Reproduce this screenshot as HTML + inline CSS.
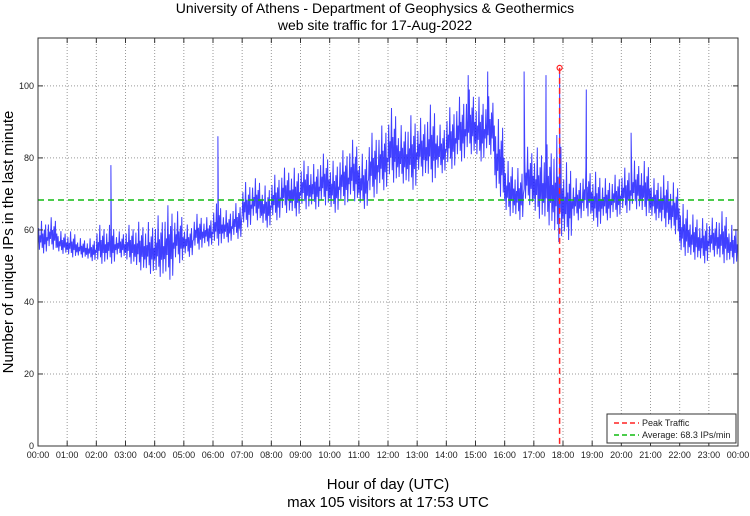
<!DOCTYPE html>
<html><head><meta charset="utf-8"><style>
body{margin:0;background:#fff;}
svg text{font-family:"Liberation Sans",sans-serif;}
</style></head><body>
<svg id="chart" width="750" height="511" xmlns="http://www.w3.org/2000/svg">
<rect x="0" y="0" width="750" height="511" fill="#fff"/>
<g id="grid"></g>
<g id="series"></g>
<g id="axes"></g>
<text x="375" y="13" font-size="14" text-anchor="middle">University of Athens - Department of Geophysics &amp; Geothermics</text>
<text x="375" y="30" font-size="14" text-anchor="middle">web site traffic for 17-Aug-2022</text>
<text x="388" y="489" font-size="15" text-anchor="middle">Hour of day (UTC)</text>
<text x="388" y="507" font-size="15" text-anchor="middle">max 105 visitors at 17:53 UTC</text>
<text transform="translate(13,242) rotate(-90)" font-size="15" text-anchor="middle">Number of unique IPs in the last minute</text>
<g>
<rect x="607" y="414" width="129" height="29" fill="#fff" stroke="#333" stroke-width="1"/>
<line x1="614" y1="423" x2="639" y2="423" stroke="#f22" stroke-width="1.5" stroke-dasharray="5,3"/>
<text x="642" y="426" font-size="9" fill="#222">Peak Traffic</text>
<line x1="614" y1="435" x2="639" y2="435" stroke="#1b1" stroke-width="1.5" stroke-dasharray="5,3"/>
<text x="642" y="438" font-size="9" fill="#222">Average: 68.3 IPs/min</text>
</g>
</svg>
<script>
const binLow = [53,54,53,52,52,51,50,50,52,50,48,47,46,45,50,52,54,55,55,56,57,60,62,60,62,64,63,65,65,66,64,66,67,65,68,70,72,72,70,74,72,75,76,78,80,78,80,68,63,62,66,62,60,55,56,62,63,60,62,63,64,65,63,62,60,58,52,51,50,52,50,50];
const binHigh = [63,64,60,60,58,58,62,62,60,62,63,63,65,68,66,62,65,64,68,66,68,74,75,73,76,78,78,80,79,82,80,83,86,82,88,90,95,90,93,92,96,90,95,98,100,98,98,92,80,78,84,84,85,88,80,75,78,77,75,76,78,80,80,75,76,74,68,65,64,64,66,62];
const spikeMinutes = [150,370,885,925,1000,1045,1128,1220];
const spikeValues = [78,86,103,104,104,103,99,87];
const yTicks = [0,20,40,60,80,100];
const xTickLabels = ["00:00","01:00","02:00","03:00","04:00","05:00","06:00","07:00","08:00","09:00","10:00","11:00","12:00","13:00","14:00","15:00","16:00","17:00","18:00","19:00","20:00","21:00","22:00","23:00","00:00"];
const averageValue = 68.3;
const peakValue = 105;
const peakMinute = 17*60+53;

const L=38,R=738,T=38,B=446,YMAX=113.3;
const xs=m=>L+(R-L)*m/1440;
const ys=v=>B-(B-T)*v/YMAX;
const NS="http://www.w3.org/2000/svg";
function mk(tag,attrs,parent){const e=document.createElementNS(NS,tag);for(const k in attrs)e.setAttribute(k,attrs[k]);parent.appendChild(e);return e;}
const grid=document.getElementById('grid'),axes=document.getElementById('axes'),series=document.getElementById('series');
xTickLabels.forEach((t,i)=>{const x=xs(i*60);
 if(i>0&&i<24){const g=mk('line',{x1:x,y1:T,x2:x,y2:B,stroke:'#999','stroke-width':1,'stroke-dasharray':'1,2'},grid);
 
 }
 mk('line',{x1:x,y1:B,x2:x,y2:B-5,stroke:'#333'},axes);mk('line',{x1:x,y1:T,x2:x,y2:T+5,stroke:'#333'},axes);
 const tx=mk('text',{x:x,y:B+12,'font-size':9,'text-anchor':'middle',fill:'#222'},axes);tx.textContent=t;
 
 });
yTicks.forEach(v=>{const y=ys(v);
 if(v>0){const g=mk('line',{x1:L,y1:y,x2:R,y2:y,stroke:'#999','stroke-width':1,'stroke-dasharray':'1,2'},grid);
 
 }
 mk('line',{x1:L,y1:y,x2:L+5,y2:y,stroke:'#333'},axes);mk('line',{x1:R,y1:y,x2:R-5,y2:y,stroke:'#333'},axes);
 const tx=mk('text',{x:L-4,y:y+3,'font-size':9,'text-anchor':'end',fill:'#222'},axes);tx.textContent=v;
 
 });
mk('rect',{x:L,y:T,width:R-L,height:B-T,fill:'none',stroke:'#333','stroke-width':1},axes);
// series: zigzag within each 20-min bin between low and high, plus isolated spikes
const pat=[0.3,0.75,0.15,0.55,0.35,0.95,0.2,0.6,0.05,0.7,0.3,0.85,0.1,0.5];
let raw=[];const nb=binLow.length,bw=1440/nb;
for(let b=0;b<nb;b++){for(let k=0;k<pat.length;k++){const m=b*bw+bw*k/pat.length;raw.push([m,binLow[b]+(binHigh[b]-binLow[b])*pat[k]]);}}
spikeMinutes.forEach((m,i)=>raw.push([m,spikeValues[i]]));
raw.push([peakMinute,peakValue]);
raw.sort((a,b)=>a[0]-b[0]);
const pts=raw.map(p=>xs(p[0]).toFixed(1)+','+ys(p[1]).toFixed(1));
const pl=mk('polyline',{points:pts.join(' '),fill:'none',stroke:'#1010ff','stroke-width':1,'stroke-opacity':0.8},series);


const av=mk('line',{x1:L,y1:ys(averageValue),x2:R,y2:ys(averageValue),stroke:'#1b1','stroke-width':1.5,'stroke-dasharray':'6,4'},series);


const pk=mk('line',{x1:xs(peakMinute),y1:ys(peakValue),x2:xs(peakMinute),y2:B,stroke:'#f22','stroke-width':1.5,'stroke-dasharray':'6,4'},series);


const pm=mk('circle',{cx:xs(peakMinute),cy:ys(peakValue),r:2.5,fill:'none',stroke:'#f22','stroke-width':1.2},series);


</script>
</body></html>
